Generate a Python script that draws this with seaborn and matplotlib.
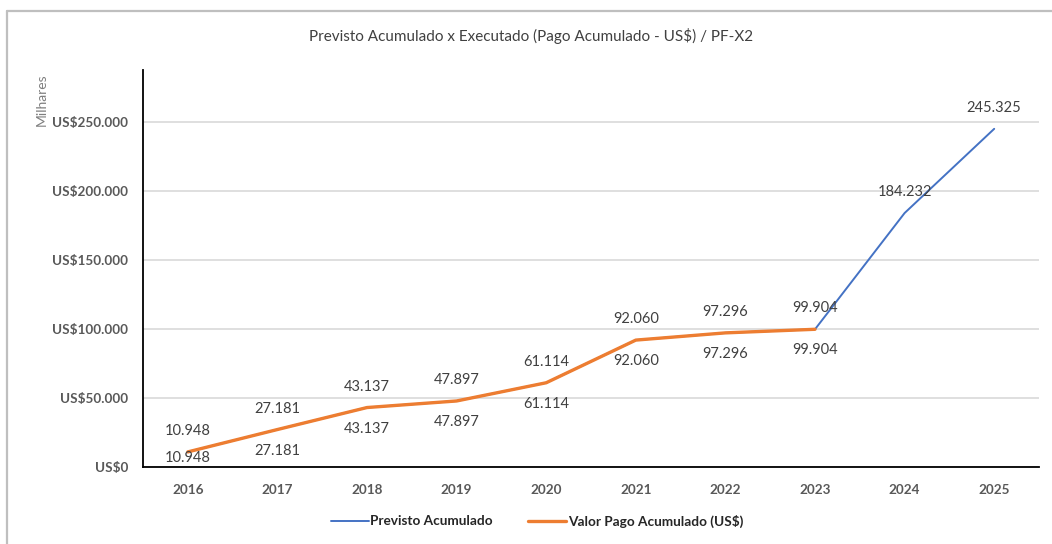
import matplotlib
matplotlib.use("Agg")
import matplotlib.pyplot as plt
from matplotlib.lines import Line2D
from matplotlib.ticker import FixedLocator, FuncFormatter
import numpy as np
import pandas as pd
import seaborn as sns

years = ["2016", "2017", "2018", "2019", "2020", "2021", "2022", "2023", "2024", "2025"]
previsto = [10948, 27181, 43137, 47897, 61114, 92060, 97296, 99904, 184232, 245325]
pago = [10948, 27181, 43137, 47897, 61114, 92060, 97296, 99904]
y_ticks = [0, 50000, 100000, 150000, 200000, 250000]

title = "Previsto Acumulado x Executado (Pago Acumulado - US$) / PF-X2"
label_previsto = "Previsto Acumulado"
label_pago = "Valor Pago Acumulado (US$)"

BLUE = "#4472C4"
ORANGE = "#ED7D31"
GRID = "#D9D9D9"
TICK_COLOR = "#595959"
LABEL_COLOR = "#404040"

sns.set_theme(style="white")
plt.rcParams["font.family"] = ["Lato", "DejaVu Sans"]


def fmt_br(v):
    """Format a number with a dot as thousands separator."""
    return f"{int(round(v)):,}".replace(",", ".")


df_prev = pd.DataFrame({"pos": np.arange(len(previsto)), "valor": previsto})
df_pago = pd.DataFrame({"pos": np.arange(len(pago)), "valor": pago})

fig = plt.figure(figsize=(10.52, 5.44), dpi=100)
ax = fig.add_axes([143 / 1052, 1 - 467 / 544, (1039 - 143) / 1052, (467 - 70) / 544])

sns.lineplot(data=df_prev, x="pos", y="valor", ax=ax, color=BLUE, linewidth=1.4)
sns.lineplot(data=df_pago, x="pos", y="valor", ax=ax, color=ORANGE, linewidth=2.4)

ax.set_xlim(-0.5, len(years) - 0.5)
ax.set_ylim(0, 288000)

# y axis
ax.yaxis.set_major_locator(FixedLocator(y_ticks))
ax.yaxis.set_major_formatter(FuncFormatter(lambda v, p: "US$" + fmt_br(v)))
ax.grid(axis="y", color=GRID, linewidth=1.2)
ax.set_axisbelow(True)

# x axis: labels at centres, tick marks at category boundaries
ax.set_xticks(np.arange(len(years)))
ax.set_xticklabels(years)
ax.set_xticks(np.arange(len(years) + 1) - 0.5, minor=True)
ax.tick_params(axis="x", which="major", length=0, pad=12)
ax.tick_params(axis="x", which="minor", length=9, width=1.1, direction="inout", color="black")
ax.tick_params(axis="y", which="major", length=9, width=1.1, direction="inout", color="black", pad=6)
ax.tick_params(axis="both", labelsize=9.7, labelcolor=TICK_COLOR)
for lab in ax.get_xticklabels() + ax.get_yticklabels():
    lab.set_fontweight("bold")

for side in ["top", "right"]:
    ax.spines[side].set_visible(False)
for side in ["left", "bottom"]:
    ax.spines[side].set_color("black")
    ax.spines[side].set_linewidth(1.3)

ax.set_xlabel("")
ax.set_ylabel("")

# data labels: previsto above, pago below
for i, v in enumerate(previsto):
    ax.annotate(fmt_br(v), (i, v), xytext=(0, 21), textcoords="offset pixels",
                ha="center", va="center", fontsize=10.5, color=LABEL_COLOR)
for i, v in enumerate(pago):
    off = -21 if v > 20000 else -6
    ax.annotate(fmt_br(v), (i, v), xytext=(0, off), textcoords="offset pixels",
                ha="center", va="center", fontsize=10.5, color=LABEL_COLOR)

fig.text(531 / 1052, 1 - 36 / 544, title, ha="center", va="center",
         fontsize=11, color=LABEL_COLOR)
fig.text(42 / 1052, 1 - 100 / 544, "Milhares", rotation=90, ha="center", va="center",
         fontsize=10, color="#7F7F7F")

handles = [
    Line2D([0], [0], color=BLUE, linewidth=1.4),
    Line2D([0], [0], color=ORANGE, linewidth=2.4),
]
leg = fig.legend(handles, [label_previsto, label_pago], loc="center",
                 bbox_to_anchor=(537 / 1052, 1 - 521 / 544), ncol=2, frameon=False,
                 fontsize=9.8, handlelength=2.8, handletextpad=0.1, columnspacing=2.6)
for t in leg.get_texts():
    t.set_fontweight("bold")
    t.set_color("#262626")

# outer chart frame (left and top edges are visible in the source)
fig.add_artist(Line2D([7 / 1052, 7 / 1052], [0, 1 - 11 / 544], color="#BFBFBF",
                      linewidth=1.6, transform=fig.transFigure))
fig.add_artist(Line2D([7 / 1052, 1], [1 - 11 / 544, 1 - 11 / 544], color="#BFBFBF",
                      linewidth=1.6, transform=fig.transFigure))

fig.savefig("out.png", dpi=100)
